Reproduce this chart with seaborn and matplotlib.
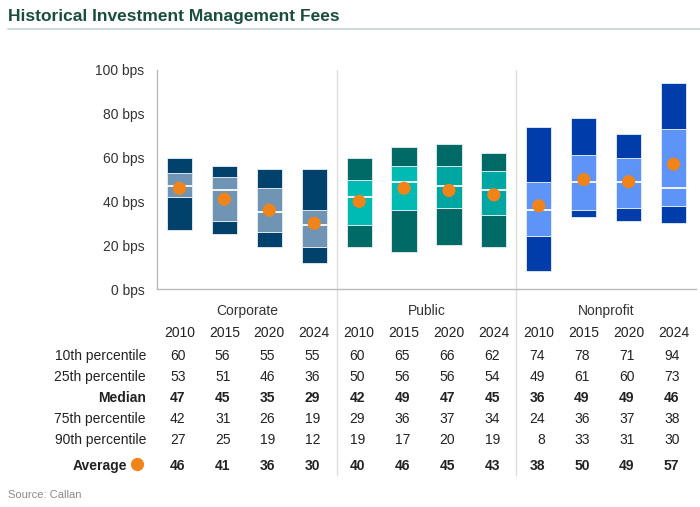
import numpy as np
import pandas as pd
import matplotlib
matplotlib.use("Agg")
import matplotlib.pyplot as plt
import matplotlib.transforms as mtransforms
import seaborn as sns

groups = ["Corporate", "Public", "Nonprofit"]
years = ["2010", "2015", "2020", "2024"]
p10 = [60, 56, 55, 55, 60, 65, 66, 62, 74, 78, 71, 94]
p25 = [53, 51, 46, 36, 50, 56, 56, 54, 49, 61, 60, 73]
median = [47, 45, 35, 29, 42, 49, 47, 45, 36, 49, 49, 46]
p75 = [42, 31, 26, 19, 29, 36, 37, 34, 24, 36, 37, 38]
p90 = [27, 25, 19, 12, 19, 17, 20, 19, 8, 33, 31, 30]
average = [46, 41, 36, 30, 40, 46, 45, 43, 38, 50, 49, 57]
row_labels = ["10th percentile", "25th percentile", "Median", "75th percentile", "90th percentile"]
yticks = [0, 20, 40, 60, 80, 100]

dark_cols = ["#00426B"] * 4 + ["#006B66"] * 4 + ["#003DAA"] * 4
light_cols = ["#7094B3"] * 4 + ["#00BAB4", "#00BAB4", "#00A6A1", "#00A6A1"] + ["#5E93F7"] * 4

df = pd.DataFrame({
    "group": np.repeat(groups, 4),
    "year": years * 3,
    "p10": p10, "p25": p25, "median": median, "p75": p75, "p90": p90, "average": average,
})
df["pos"] = np.arange(len(df))

sns.set_theme(style="white")
plt.rcParams["font.family"] = ["Liberation Sans", "DejaVu Sans"]

fig = plt.figure(figsize=(7, 5.07), dpi=100)
ax = fig.add_axes([157 / 700, 1 - 289 / 507, (696 - 157) / 700, (289 - 70) / 507])

w = 0.56
x = df["pos"].values
ax.bar(x, df["p75"] - df["p90"], bottom=df["p90"], width=w, color=dark_cols,
       edgecolor="#E8EEF3", linewidth=0.6, zorder=2)
ax.bar(x, df["p25"] - df["p75"], bottom=df["p75"], width=w, color=light_cols,
       edgecolor="#E8EEF3", linewidth=0.6, zorder=2)
ax.bar(x, df["p10"] - df["p25"], bottom=df["p25"], width=w, color=dark_cols,
       edgecolor="#E8EEF3", linewidth=0.6, zorder=2)
for xi, m in zip(x, df["median"]):
    ax.plot([xi - w / 2, xi + w / 2], [m, m], color="white", lw=1.4, alpha=0.9, zorder=3)

sns.scatterplot(data=df, x="pos", y="average", color="#F08419", s=90, edgecolor="none",
                zorder=4, ax=ax, legend=False)

ax.set_xlim(-0.5, 11.5)
ax.set_ylim(0, 100)
ax.set_yticks(yticks)
ax.set_yticklabels([f"{v} bps" for v in yticks], fontsize=10, color="#333333")
ax.set_xticks([0.5, 1.5, 2.5, 4.5, 5.5, 6.5, 8.5, 9.5, 10.5])
ax.set_xticklabels([])
ax.tick_params(axis="x", length=3, color="#BBBBBB", width=0.8, direction="out")
ax.tick_params(axis="y", length=5, color="#BBBBBB", width=0.8, direction="out", pad=4)
ax.set_xlabel("")
ax.set_ylabel("")
for s in ["top", "right"]:
    ax.spines[s].set_visible(False)
for s in ["left", "bottom"]:
    ax.spines[s].set_color("#BBBBBB")
    ax.spines[s].set_linewidth(1.0)
ax.spines["bottom"].set_zorder(1)

for sep in [3.5, 7.5]:
    ax.axvline(sep, ymin=-0.85, ymax=1.0, color="#DDDDDD", lw=1.0, clip_on=False, zorder=0)

trans = mtransforms.blended_transform_factory(ax.transData, fig.transFigure)
rtrans = trans + mtransforms.ScaledTranslation(6 / 100, 0, fig.dpi_scale_trans)
def fy(py):
    return 1 - py / 507

for gi, g in enumerate(groups):
    ax.text(gi * 4 + 1.5, fy(311), g, transform=trans, ha="center", va="center",
            fontsize=10, color="#333333")

for xi, yr in zip(x, df["year"]):
    ax.text(xi, fy(333), yr, transform=trans, ha="center", va="center", fontsize=10, color="#222222")

row_y = [356, 377, 398, 419, 440]
row_vals = [p10, p25, median, p75, p90]
for lab, ry, vals in zip(row_labels, row_y, row_vals):
    bold = lab == "Median"
    fig.text(146 / 700, fy(ry), lab, ha="right", va="center", fontsize=10,
             color="#222222", fontweight="bold" if bold else "normal")
    for xi, v in zip(x, vals):
        ax.text(xi, fy(ry), str(v), transform=rtrans, ha="right", va="center", fontsize=10,
                color="#222222", fontweight="bold" if bold else "normal")

fig.text(127 / 700, fy(466), "Average", ha="right", va="center", fontsize=10,
         color="#222222", fontweight="bold")
fig.add_artist(plt.Line2D([137 / 700], [fy(464)], marker="o", markersize=8.5,
                          color="#F08419", linestyle="none", transform=fig.transFigure))
for xi, v in zip(x, average):
    ax.text(xi, fy(466), str(v), transform=rtrans, ha="right", va="center", fontsize=10,
            color="#222222", fontweight="bold")

fig.text(8 / 700, fy(16), "Historical Investment Management Fees", ha="left", va="center",
         fontsize=12.5, fontweight="bold", color="#1B4D3E")
fig.add_artist(plt.Line2D([8 / 700, 1.0], [fy(29), fy(29)], color="#C5D3CC", lw=1.2,
                          transform=fig.transFigure))
fig.text(8 / 700, fy(495), "Source: Callan", ha="left", va="center", fontsize=8, color="#8A8A8A")

fig.savefig("out.png", dpi=100)
